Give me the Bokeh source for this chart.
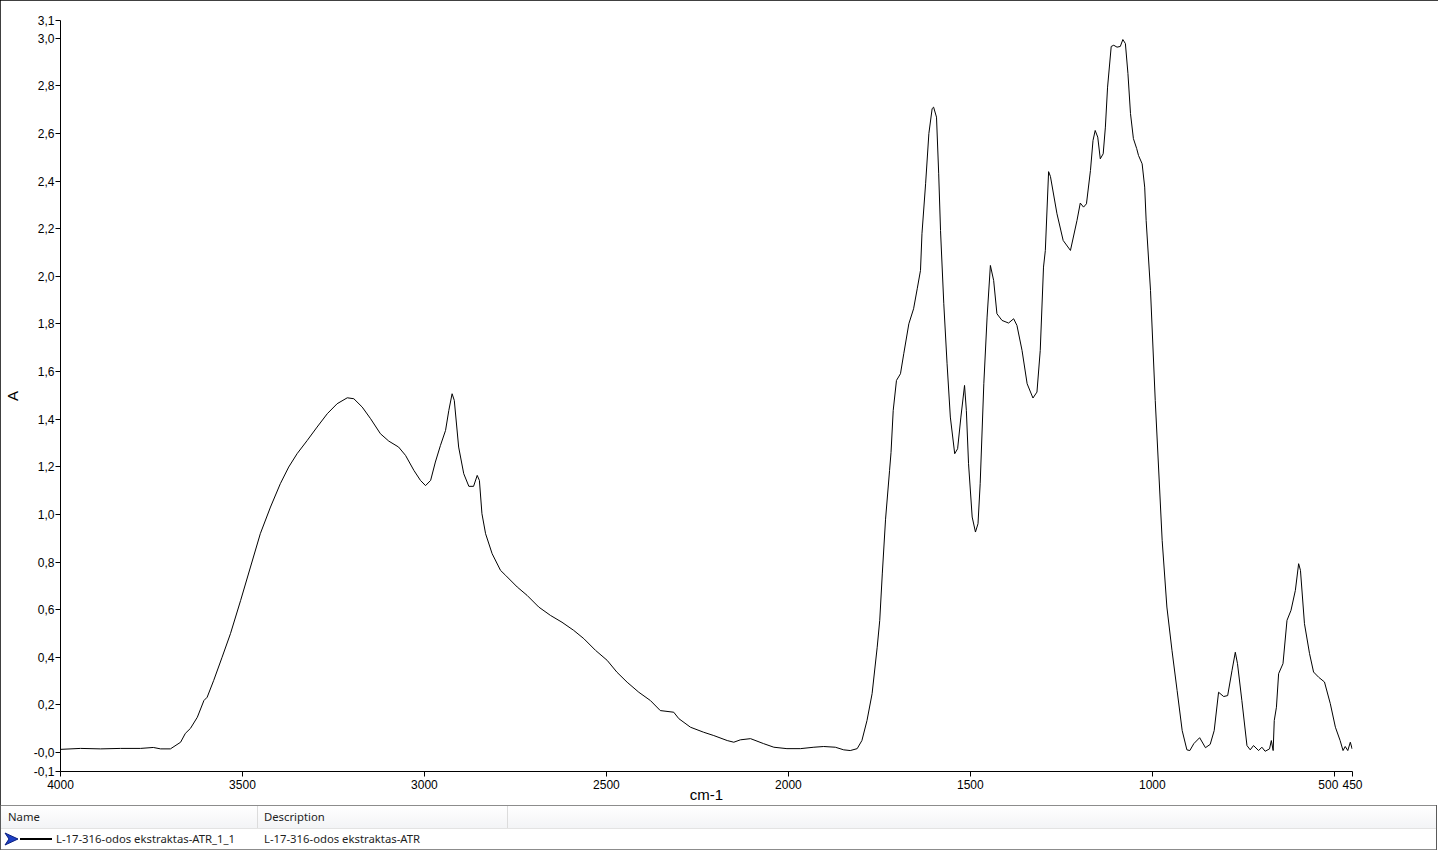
from bokeh.plotting import figure
from bokeh.models import Range1d, FixedTicker, CustomJSTickFormatter, Div
from bokeh.layouts import column
from bokeh.embed import file_html
from bokeh.resources import INLINE

# ---- spectrum data (wavenumber cm-1, absorbance A) ----
wavenumber = [4000, 3945, 3890, 3835, 3780, 3745, 3725, 3698, 3670, 3657, 3643, 3624, 3606, 3597,
              3579, 3556, 3533, 3505, 3478, 3451, 3423, 3396, 3373, 3350, 3322, 3295, 3267, 3240,
              3212, 3194, 3171, 3148, 3121, 3098, 3071, 3052, 3029, 3011, 2997, 2983, 2970, 2956,
              2942, 2933, 2924, 2918, 2906, 2892, 2878, 2865, 2855, 2849, 2842, 2832, 2814, 2791,
              2777, 2745, 2718, 2686, 2654, 2622, 2590, 2562, 2530, 2498, 2471, 2443, 2411, 2379,
              2352, 2315, 2301, 2269, 2233, 2205, 2168, 2150, 2132, 2104, 2068, 2040, 2004, 1967,
              1930, 1903, 1871, 1848, 1830, 1811, 1798, 1784, 1770, 1756, 1749, 1742, 1733, 1722,
              1718, 1712, 1703, 1692, 1683, 1669, 1656, 1646, 1637, 1633, 1623, 1614, 1605, 1601,
              1593, 1587, 1582, 1573, 1564, 1555, 1543, 1535, 1526, 1516, 1511, 1505, 1495, 1486,
              1479, 1473, 1463, 1454, 1445, 1436, 1427, 1413, 1395, 1381, 1372, 1358, 1344, 1328,
              1317, 1308, 1299, 1294, 1285, 1280, 1262, 1245, 1225, 1207, 1198, 1189, 1181, 1170,
              1163, 1157, 1150, 1143, 1135, 1129, 1123, 1113, 1106, 1097, 1088, 1081, 1074, 1067,
              1060, 1052, 1043, 1038, 1028, 1021, 1017, 1005, 992, 973, 960, 946, 932, 918,
              905, 897, 886, 870, 854, 841, 830, 818, 804, 793, 781, 772, 766, 754,
              740, 731, 722, 708, 699, 690, 678, 673, 668, 665, 659, 653, 641, 630,
              619, 607, 598, 593, 582, 568, 557, 543, 527, 511, 497, 484, 476, 470,
              463, 456, 451]
absorbance = [0.013, 0.017, 0.015, 0.017, 0.017, 0.021, 0.015, 0.015, 0.043, 0.080, 0.101, 0.148, 0.218, 0.232,
              0.303, 0.400, 0.499, 0.639, 0.779, 0.919, 1.031, 1.129, 1.199, 1.255, 1.311, 1.367, 1.423, 1.465,
              1.490, 1.486, 1.451, 1.402, 1.339, 1.308, 1.283, 1.248, 1.185, 1.143, 1.121, 1.143, 1.220, 1.290,
              1.353, 1.437, 1.507, 1.479, 1.283, 1.171, 1.118, 1.118, 1.164, 1.143, 1.003, 0.919, 0.835, 0.765,
              0.744, 0.695, 0.660, 0.611, 0.576, 0.547, 0.513, 0.478, 0.429, 0.387, 0.337, 0.295, 0.253, 0.218,
              0.176, 0.169, 0.142, 0.106, 0.085, 0.071, 0.050, 0.043, 0.053, 0.058, 0.037, 0.022, 0.016, 0.016,
              0.022, 0.025, 0.022, 0.011, 0.008, 0.016, 0.050, 0.134, 0.247, 0.442, 0.555, 0.750, 0.980, 1.185,
              1.260, 1.437, 1.563, 1.591, 1.675, 1.801, 1.864, 1.948, 2.025, 2.179, 2.389, 2.600, 2.705, 2.711,
              2.669, 2.431, 2.193, 1.885, 1.633, 1.409, 1.255, 1.276, 1.409, 1.542, 1.437, 1.213, 0.989, 0.926,
              0.961, 1.129, 1.549, 1.829, 2.046, 1.983, 1.843, 1.815, 1.804, 1.822, 1.794, 1.689, 1.549, 1.489,
              1.514, 1.689, 2.039, 2.109, 2.440, 2.420, 2.263, 2.151, 2.109, 2.235, 2.308, 2.291, 2.305, 2.445,
              2.571, 2.613, 2.585, 2.494, 2.515, 2.627, 2.795, 2.966, 2.971, 2.963, 2.966, 2.995, 2.978, 2.852,
              2.684, 2.579, 2.537, 2.508, 2.473, 2.375, 2.235, 1.941, 1.479, 0.891, 0.611, 0.429, 0.261, 0.092,
              0.011, 0.008, 0.037, 0.062, 0.020, 0.034, 0.092, 0.253, 0.235, 0.239, 0.345, 0.421, 0.373, 0.218,
              0.029, 0.011, 0.029, 0.008, 0.022, 0.005, 0.015, 0.050, 0.008, 0.134, 0.190, 0.331, 0.373, 0.555,
              0.597, 0.681, 0.793, 0.765, 0.541, 0.415, 0.338, 0.316, 0.296, 0.205, 0.106, 0.050, 0.008, 0.025,
              0.008, 0.043, 0.015]

x_ticks = [4000, 3500, 3000, 2500, 2000, 1500, 1000, 500, 450]
y_ticks = [-0.08, 0.0, 0.2, 0.4, 0.6, 0.8, 1.0, 1.2, 1.4, 1.6, 1.8, 2.0, 2.2, 2.4, 2.6, 2.8, 3.0, 3.075]
x_min, x_max = 4000, 450
y_min, y_max = -0.08, 3.075

series_name = "L-17-316-odos ekstraktas-ATR_1_1"
series_desc = "L-17-316-odos ekstraktas-ATR"
header_cols = ["Name", "Description"]

TICK_FONT = "Liberation Sans"

p = figure(width=1438, height=805, x_range=Range1d(x_min, x_max), y_range=Range1d(y_min, y_max),
           output_backend="svg", toolbar_location=None,
           min_border_left=60, min_border_right=86, min_border_top=20, min_border_bottom=34)
p.outline_line_color = None
p.grid.visible = False
p.background_fill_color = "white"
p.border_fill_color = "white"

p.line(wavenumber, absorbance, line_color="black", line_width=1)

for ax in (p.xaxis[0], p.yaxis[0]):
    ax.axis_line_color = "black"
    ax.major_tick_line_color = "black"
    ax.major_tick_out = 5
    ax.major_tick_in = 0
    ax.minor_tick_line_color = None
    ax.major_label_text_font = TICK_FONT
    ax.major_label_text_font_size = "12px"
    ax.major_label_text_color = "black"
    ax.axis_label_text_font = TICK_FONT
    ax.axis_label_text_font_style = "normal"
    ax.axis_label_text_color = "black"

p.xaxis[0].ticker = FixedTicker(ticks=x_ticks)
# the "500" label sits a little left of its tick so it does not touch "450"
p.xaxis[0].major_label_overrides = {500: "500\u2003"}
p.xaxis[0].axis_label = "cm-1"
p.xaxis[0].axis_label_text_font_size = "15px"
p.xaxis[0].major_label_standoff = 1
p.xaxis[0].axis_label_standoff = -9

p.yaxis[0].ticker = FixedTicker(ticks=y_ticks)
p.yaxis[0].formatter = CustomJSTickFormatter(code="""
    if (Math.abs(tick) < 1e-9) { return "-0,0"; }
    return tick.toFixed(1).replace('.', ',');
""")
p.yaxis[0].axis_label = "A"
p.yaxis[0].axis_label_text_font_size = "15px"
p.yaxis[0].major_label_standoff = 1
p.yaxis[0].axis_label_standoff = 10

# ---- legend table below the chart ----
arrow_svg = ('<svg width="16" height="14" style="position:absolute;left:4px;top:27px">'
             '<polygon points="1,1 14,7 1,13 5,7" fill="#1d3fc4" stroke="#0a1f80" stroke-width="1"/></svg>')
table_html = f"""
<div style="position:relative;width:1438px;height:45px;background:#ffffff;font-family:'Noto Sans';font-size:11.3px;color:#1e1e1e;">
  <div style="position:absolute;left:0;top:0;width:1437px;height:1px;background:#8c8c8c"></div>
  <div style="position:absolute;left:0;top:1px;width:1436px;height:22px;background:linear-gradient(#ffffff,#f3f4f6)"></div>
  <div style="position:absolute;left:257px;top:1px;width:1px;height:22px;background:#dcdcdc"></div>
  <div style="position:absolute;left:507px;top:1px;width:1px;height:22px;background:#dcdcdc"></div>
  <div style="position:absolute;left:0;top:23px;width:1436px;height:1px;background:#e3e3e3"></div>
  <div style="position:absolute;left:8px;top:1px;height:22px;line-height:22px;white-space:nowrap">{header_cols[0]}</div>
  <div style="position:absolute;left:264px;top:1px;height:22px;line-height:22px;white-space:nowrap">{header_cols[1]}</div>
  {arrow_svg}
  <div style="position:absolute;left:20px;top:33px;width:32px;height:2px;background:#000000"></div>
  <div style="position:absolute;left:56px;top:24px;height:20px;line-height:20px;white-space:nowrap">{series_name}</div>
  <div style="position:absolute;left:264px;top:24px;height:20px;line-height:20px;white-space:nowrap">{series_desc}</div>
  <div style="position:absolute;left:0;top:44px;width:1437px;height:1px;background:#8c8c8c"></div>
  <div style="position:absolute;left:1436px;top:0;width:1px;height:45px;background:#5a5a5a"></div>
  <div style="position:absolute;left:0;top:0;width:1px;height:45px;background:#5a5a5a"></div>
</div>
"""
table = Div(text=table_html, width=1438, height=45, margin=0)

layout = column(p, table, spacing=0, styles={"outline": "1px solid #000000", "outline-offset": "-1px"})
open("out.html", "w").write(file_html(layout, INLINE))
